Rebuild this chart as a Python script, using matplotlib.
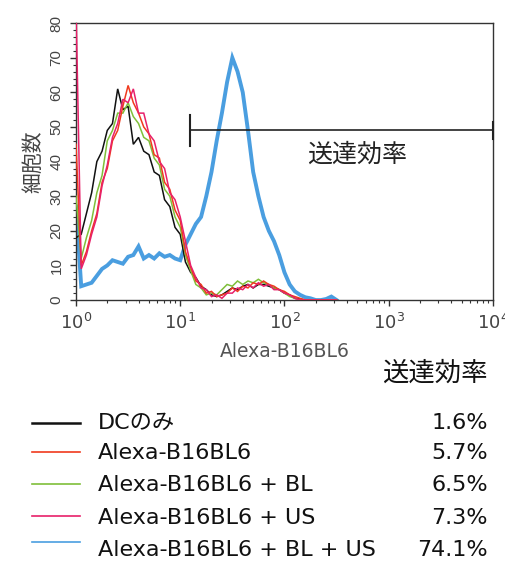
import numpy as np
import matplotlib
matplotlib.use('Agg')
import matplotlib.pyplot as plt
from matplotlib.lines import Line2D
from matplotlib.ticker import FixedLocator, NullFormatter

plt.rcParams['font.family'] = ['DejaVu Sans', 'Noto Sans CJK JP']
JP = ['Noto Sans CJK JP', 'DejaVu Sans']

# histogram bins, in decades (log10 of fluorescence), every 0.05 decade
log_bins = np.round(np.arange(0.0, 2.51, 0.05), 2)

dc_only = [18, 19, 25, 31, 40, 43, 49, 51, 61, 55, 56, 45, 47, 43, 42, 37, 36, 29, 27, 21,
           19, 11, 8, 6.5, 4, 3, 1.5, 1, 1.5, 2.5, 3.5, 3, 4, 4.5, 3.5, 4.5, 4.5, 4, 3.5, 3,
           2, 1.5, 0.5, 0.3, 0, 0, 0, 0, 0, 0, 0]
alexa = [45, 10, 14, 20, 25, 34, 38, 46, 49, 56, 62, 57, 54, 50, 48, 42, 41, 34, 32, 26,
         23, 14, 9.5, 5.5, 4.5, 2, 2.5, 1, 1.5, 2, 3.5, 2.5, 4, 3.5, 5, 4.5, 5.5, 4.5, 4, 3,
         2.5, 1.5, 1, 0.5, 0, 0, 0, 0, 0, 0, 0]
alexa_bl = [30, 12, 18, 23, 31, 36, 46, 49, 54, 54, 57, 53, 51, 47, 46, 41, 39, 32, 30, 24,
            21, 13, 8.5, 4.5, 3.5, 1.5, 2, 1.5, 3, 4.5, 4, 5.5, 4.5, 5.5, 5, 6, 5, 4.5, 3.5, 3,
            2, 1, 0.5, 0, 0, 0, 0, 0, 0, 0, 0]
alexa_us = [85, 9, 13, 19, 24, 33, 39, 47, 51, 58, 57, 61, 54, 54, 48, 46, 40, 38, 31, 29,
            24, 17, 10, 6.5, 3.5, 3, 1, 1.5, 0.5, 2, 2, 3.5, 3, 4.5, 3.5, 5, 4, 4.5, 3, 3,
            2, 1.5, 0.5, 0, 0, 0, 0, 0, 0, 0, 0]
alexa_bl_us = [27, 4, 4.5, 5, 7, 9, 10, 11.5, 11, 10.5, 12.5, 13, 15.5, 12, 13, 12, 13.5, 12.5, 13, 12,
               11.5, 16, 19, 22, 24, 30, 37, 46, 54, 63, 70, 66, 60, 49, 37, 30, 24, 20, 17, 13,
               8, 4.5, 2.5, 1.5, 0.8, 0.5, 0, 0, 0.3, 1, 0]

labels = ['DCのみ', 'Alexa-B16BL6', 'Alexa-B16BL6 + BL', 'Alexa-B16BL6 + US',
          'Alexa-B16BL6 + BL + US']
efficiency = ['1.6%', '5.7%', '6.5%', '7.3%', '74.1%']
colors = ['#111111', '#f03a1e', '#7fbf3a', '#e8206a', '#4a9ee0']
widths = [1.1, 1.1, 1.1, 1.1, 2.8]
series = [dc_only, alexa, alexa_bl, alexa_us, alexa_bl_us]

gate_lo, gate_hi, gate_y = 12.5, 1e4, 49

fig = plt.figure(figsize=(5.05, 5.64), dpi=100)
ax = fig.add_axes([0.1505, 0.468, 0.8255, 0.491])

x = 10 ** log_bins
draw_order = [4, 0, 2, 1, 3]
for i in draw_order:
    ax.plot(x, series[i], color=colors[i], lw=widths[i],
            zorder=3 if i != 4 else 2, solid_joinstyle='miter')

ax.set_xscale('log')
ax.set_xlim(1, 1e4)
ax.set_ylim(0, 80)

ax.set_yticks(range(0, 81, 10))
ax.yaxis.set_minor_locator(FixedLocator(np.arange(0, 81, 2)))
ax.set_xticks([1, 10, 100, 1000, 10000])
ax.set_xticklabels([r'$10^0$', r'$10^1$', r'$10^2$', r'$10^3$', r'$10^4$'])
ax.xaxis.set_minor_formatter(NullFormatter())
ax.tick_params(axis='both', which='major', direction='out', length=4, width=1,
               colors='#333333', labelcolor='#444444')
ax.tick_params(axis='both', which='minor', direction='out', length=2.5, width=0.8,
               colors='#333333')
ax.tick_params(axis='x', labelsize=13, pad=5)
ax.tick_params(axis='y', labelsize=11, pad=5)
for lab in ax.get_yticklabels():
    lab.set_rotation(90)
    lab.set_va('center')
    lab.set_family(['Liberation Sans'])
for sp in ax.spines.values():
    sp.set_color('#333333')
    sp.set_linewidth(1)

# gate
ax.plot([gate_lo, gate_hi], [gate_y, gate_y], color='#222222', lw=1.2, zorder=4,
        clip_on=False)
ax.plot([gate_lo, gate_lo], [44.5, 53.5], color='#222222', lw=1.5, zorder=4)
ax.plot([gate_hi, gate_hi], [46.5, 51.5], color='#222222', lw=1.5, zorder=4,
        clip_on=False)
ax.text(500, 42, '送達効率', fontsize=18, ha='center', va='center', color='#222222',
        family=JP)

ax.set_xlabel('Alexa-B16BL6', fontsize=13.5, color='#555555', labelpad=7)
ax.set_ylabel('細胞数', fontsize=15, color='#444444', labelpad=4, family=JP)

# legend drawn below the plot
fig.text(488 / 505, 1 - 373 / 564, '送達効率', fontsize=19, ha='right', va='center',
         family=JP, color='#111111')
row_y = [423, 453, 485, 518, 550]
line_y = [423, 452, 484, 516, 542]
for i in range(5):
    fig.add_artist(Line2D([32 / 505, 80 / 505], [1 - line_y[i] / 564] * 2,
                          color=colors[i], lw=1.8 if i == 0 else 1.2))
    fig.text(98 / 505, 1 - row_y[i] / 564, labels[i], fontsize=16, ha='left',
             va='center', color='#111111')
    fig.text(488 / 505, 1 - row_y[i] / 564, efficiency[i], fontsize=16, ha='right',
             va='center', color='#111111')

fig.savefig('out.png', dpi=100)
